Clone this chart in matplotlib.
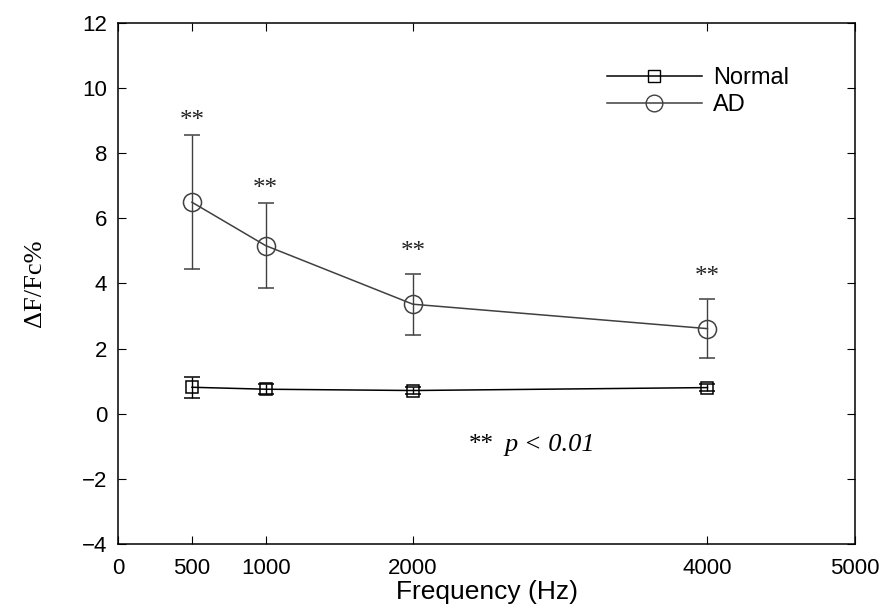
import numpy as np
import matplotlib.pyplot as plt

plt.rcParams['font.family'] = ['Liberation Sans', 'DejaVu Sans']

freq = [500, 1000, 2000, 4000]
normal_mean = [0.81, 0.75, 0.71, 0.80]
normal_err = [0.32, 0.15, 0.12, 0.12]
ad_mean = [6.49, 5.16, 3.36, 2.61]
ad_err = [2.05, 1.31, 0.94, 0.91]
star_y = [9.0, 6.9, 4.95, 4.2]

xticks = [0, 500, 1000, 2000, 4000, 5000]
yticks = [-4, -2, 0, 2, 4, 6, 8, 10, 12]

fig = plt.figure(figsize=(8.83, 6.16), dpi=100)
ax = fig.add_axes([0.134, 0.117, 0.834, 0.846])

ax.errorbar(freq, normal_mean, yerr=normal_err, color='black', lw=1.1,
            marker='s', ms=9, mfc='none', mec='black', mew=1.1,
            ecolor='black', elinewidth=1, capsize=6)
ax.errorbar(freq, ad_mean, yerr=ad_err, color='#404040', lw=1.1,
            marker='o', ms=13, mfc='none', mec='#404040', mew=1.1,
            ecolor='#404040', elinewidth=1, capsize=6)

# legend handles without the error bars
ax.plot([], [], color='black', lw=1.1, marker='s', ms=9, mfc='none',
        mec='black', label='Normal')
ax.plot([], [], color='#404040', lw=1.1, marker='o', ms=12, mfc='none',
        mec='#404040', label='AD')

for x, y in zip(freq, star_y):
    ax.text(x, y, '**', ha='center', va='center', fontsize=18,
            family='Liberation Serif', color='#222222')

ax.text(2380, -0.95, '**', ha='left', va='center', fontsize=18,
        family='Liberation Serif')
ax.text(2620, -0.95, 'p < 0.01', ha='left', va='center', fontsize=19,
        family='Liberation Serif', style='italic')

ax.set_xlim(0, 5000)
ax.set_ylim(-4, 12)
ax.set_xticks(xticks)
ax.set_yticks(yticks)
ax.set_yticklabels(['\u2212' + str(-t) if t < 0 else str(t) for t in yticks])
ax.tick_params(direction='in', top=True, right=True, labelsize=16, length=6)
ax.tick_params(axis='x', pad=10)
ax.tick_params(axis='y', pad=8)
for s in ax.spines.values():
    s.set_linewidth(1.1)

ax.set_xlabel('Frequency (Hz)', fontsize=19, labelpad=1)
ax.set_ylabel('\u0394F/Fc%', fontsize=19, family='Liberation Serif', labelpad=26)

leg = ax.legend(loc='upper right', bbox_to_anchor=(0.94, 0.955), frameon=False,
                fontsize=17, handlelength=4.0, labelspacing=0.2,
                handletextpad=0.5)

fig.savefig('out.png', dpi=100)
